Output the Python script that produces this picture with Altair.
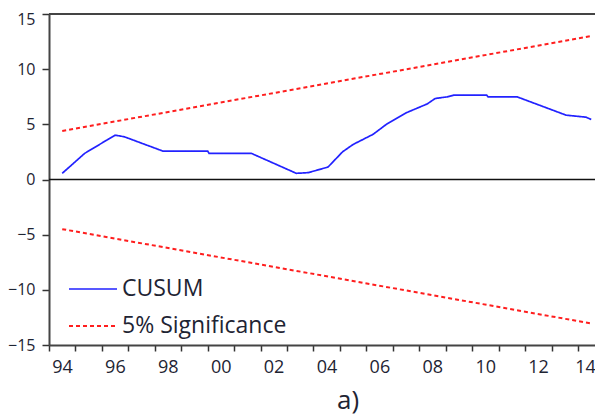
import altair as alt
import pandas as pd

# CUSUM statistic (decimal year, value)
cusum_year = [1994.5, 1995.35, 1996.5, 1996.85, 1998.3, 2000.0, 2000.05, 2001.65,
              2003.35, 2003.8, 2004.55, 2005.1, 2005.5, 2006.25, 2006.75, 2007.5,
              2008.3, 2008.6, 2009.05, 2009.3, 2010.55, 2010.6, 2011.7, 2013.55,
              2014.3, 2014.5]
cusum_value = [0.56, 2.37, 4.02, 3.87, 2.58, 2.58, 2.37, 2.37,
               0.56, 0.62, 1.13, 2.51, 3.18, 4.09, 4.99, 6.04,
               6.85, 7.34, 7.49, 7.64, 7.64, 7.49, 7.49, 5.83,
               5.65, 5.44]

# 5% significance bounds (straight lines)
bound_year = [1994.5, 2014.5]
upper_value = [4.4, 13.0]
lower_value = [-4.5, -13.05]

y_ticks = [-15, -10, -5, 0, 5, 10, 15]
x_ticks = list(range(1994, 2015))

series_names = ["CUSUM", "5% Significance"]

rows = []
for yr, v in zip(cusum_year, cusum_value):
    rows.append({"year": yr, "value": v, "series": "CUSUM", "line": "cusum"})
for yr, v in zip(bound_year, upper_value):
    rows.append({"year": yr, "value": v, "series": "5% Significance", "line": "upper"})
for yr, v in zip(bound_year, lower_value):
    rows.append({"year": yr, "value": v, "series": "5% Significance", "line": "lower"})
df = pd.DataFrame(rows)

FONT = "Open Sans"
TXT = "#1e2433"

W = 546
x_scale = alt.Scale(domain=[1994, 1994 + W / 26.45], nice=False, zero=False)
y_scale = alt.Scale(domain=[-15, 15], nice=False)

color_scale = alt.Scale(domain=series_names, range=["#2222ff", "#ff1e1e"])
dash_scale = alt.Scale(domain=series_names, range=[[1, 0], [4, 3]])
width_scale = alt.Scale(domain=series_names, range=[1.7, 2.0])

legend = alt.Legend(title=None, orient="none", legendX=19, legendY=250,
                    symbolType="stroke", symbolSize=2304,
                    symbolStrokeWidth=1.8, labelFont=FONT,
                    labelFontSize=23, labelColor=TXT, labelLimit=400,
                    labelOffset=4, rowPadding=-3, padding=0)

lines = alt.Chart(df).mark_line().encode(
    x=alt.X("year:Q", scale=x_scale, title=None,
            axis=alt.Axis(values=x_ticks, tickSize=6, tickColor="#333",
                          tickWidth=1.5, domainColor="#444", domainWidth=2,
                          grid=False, labelFlush=False, labelPadding=7,
                          labelOffset=alt.ConditionalAxisNumber(
                              condition={"test": "datum.value == 2014", "value": 7},
                              value=13),
                          labelExpr="datum.value % 2 == 0 ? slice(toString(datum.value), 2) : ''",
                          labelFont=FONT, labelFontSize=18, labelColor=TXT)),
    y=alt.Y("value:Q", scale=y_scale, title=None,
            axis=alt.Axis(values=y_ticks, tickSize=7, tickColor="#333",
                          tickWidth=1.5, domainColor="#444", domainWidth=2,
                          grid=False, labelPadding=7, labelFlush=False,
                          labelOffset=alt.ConditionalAxisNumber(
                              condition={"test": "datum.value == 15", "value": 5},
                              value=0),
                          labelFont=FONT, labelFontSize=16, labelColor=TXT)),
    color=alt.Color("series:N", scale=color_scale, legend=legend),
    strokeDash=alt.StrokeDash("series:N", scale=dash_scale, legend=None),
    strokeWidth=alt.StrokeWidth("series:N", scale=width_scale, legend=None),
    detail="line:N",
    order="year:Q",
)

frame = pd.DataFrame({"value": [0, 15], "kind": ["zero", "top"]})
zero = alt.Chart(frame).transform_filter("datum.kind == 'zero'").mark_rule(
    color="#111", strokeWidth=1.5).encode(y=alt.Y("value:Q", scale=y_scale, title=None))
top = alt.Chart(frame).transform_filter("datum.kind == 'top'").mark_rule(
    color="#444", strokeWidth=2).encode(y=alt.Y("value:Q", scale=y_scale, title=None))

chart = alt.layer(zero, top, lines).properties(
    width=W, height=331,
    padding={"left": 41, "top": 6, "right": 0, "bottom": 72},
    autosize=alt.AutoSizeParams(type="none"),
    title=alt.Title("a)", orient="bottom", fontSize=26, font=FONT, fontWeight="normal",
                    color=TXT, dx=26, offset=12),
).configure_view(strokeWidth=0)

chart.save("out.html", embed_options={"renderer": "svg", "actions": False})
